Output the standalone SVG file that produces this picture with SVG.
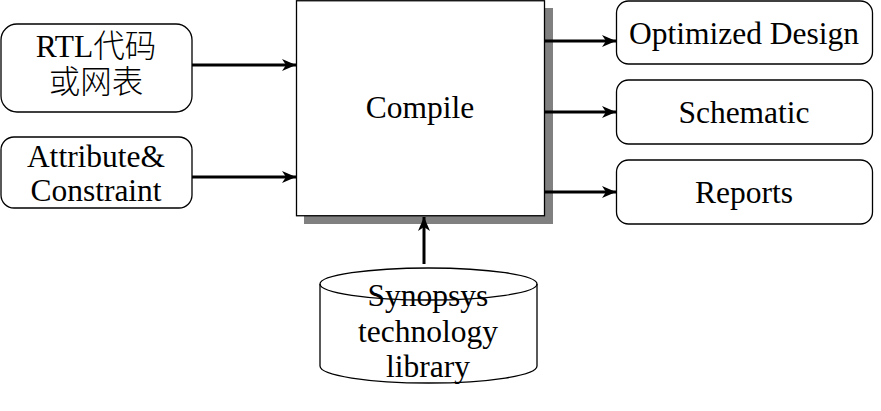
<svg xmlns="http://www.w3.org/2000/svg" width="881" height="411" viewBox="0 0 881 411">
<style>
.box{fill:#fff;stroke:#000;stroke-width:1.3}
.t{font-family:'Liberation Serif','Noto Sans CJK SC',serif;font-size:31.5px;fill:#000;text-anchor:middle}
.cjk{font-weight:300}
.c{stroke:#000;stroke-width:3;fill:none}
</style>
<defs>
<marker id="ah" viewBox="0 0 14 12" refX="14" refY="6" markerWidth="14" markerHeight="12" markerUnits="userSpaceOnUse" orient="auto">
<path d="M0,0 L14,6 L0,12 L4,6 Z" fill="#000"/>
</marker>
</defs>
<rect width="881" height="411" fill="#fff"/>
<g id="rtl">
<rect class="box" x="1" y="24" width="191" height="88" rx="16"/>
<text class="t" x="96" y="57">RTL<tspan class="cjk">代码</tspan></text>
<text class="t cjk" x="96" y="93">或网表</text>
</g>
<g id="attr">
<rect class="box" x="1" y="137" width="191" height="71" rx="13"/>
<text class="t" x="96" y="167">Attribute&amp;</text>
<text class="t" x="96" y="201">Constraint</text>
</g>
<g id="compile">
<rect x="304" y="8" width="249" height="216" fill="#808080"/>
<rect class="box" x="296.5" y="0.75" width="248" height="215"/>
<text class="t" x="420" y="118">Compile</text>
</g>
<g id="optimized">
<rect class="box" x="616.5" y="1" width="256" height="63" rx="12"/>
<text class="t" x="744" y="44">Optimized Design</text>
</g>
<g id="schematic">
<rect class="box" x="616.5" y="80" width="256" height="64" rx="12"/>
<text class="t" x="744" y="123">Schematic</text>
</g>
<g id="reports">
<rect class="box" x="616.5" y="160" width="256" height="64" rx="12"/>
<text class="t" x="744" y="203">Reports</text>
</g>
<g id="library">
<path class="box" d="M320,284 A108.5,16 0 0 1 537,284 L537,366 A108.5,17 0 0 1 320,366 Z"/>
<path d="M320,284 A108.5,16 0 0 0 537,284" fill="none" stroke="#000" stroke-width="1.3"/>
<text class="t" x="428" y="306">Synopsys</text>
<text class="t" x="428" y="342">technology</text>
<text class="t" x="428" y="377">library</text>
</g>
<g id="connectors">
<line class="c" x1="192" y1="65" x2="296" y2="65" marker-end="url(#ah)"/>
<line class="c" x1="192" y1="177" x2="296" y2="177" marker-end="url(#ah)"/>
<line class="c" x1="545" y1="41" x2="616" y2="41" marker-end="url(#ah)"/>
<line class="c" x1="545" y1="112" x2="616" y2="112" marker-end="url(#ah)"/>
<line class="c" x1="545" y1="192" x2="616" y2="192" marker-end="url(#ah)"/>
<line class="c" x1="424" y1="264" x2="424" y2="217" marker-end="url(#ah)"/>
</g>
</svg>
